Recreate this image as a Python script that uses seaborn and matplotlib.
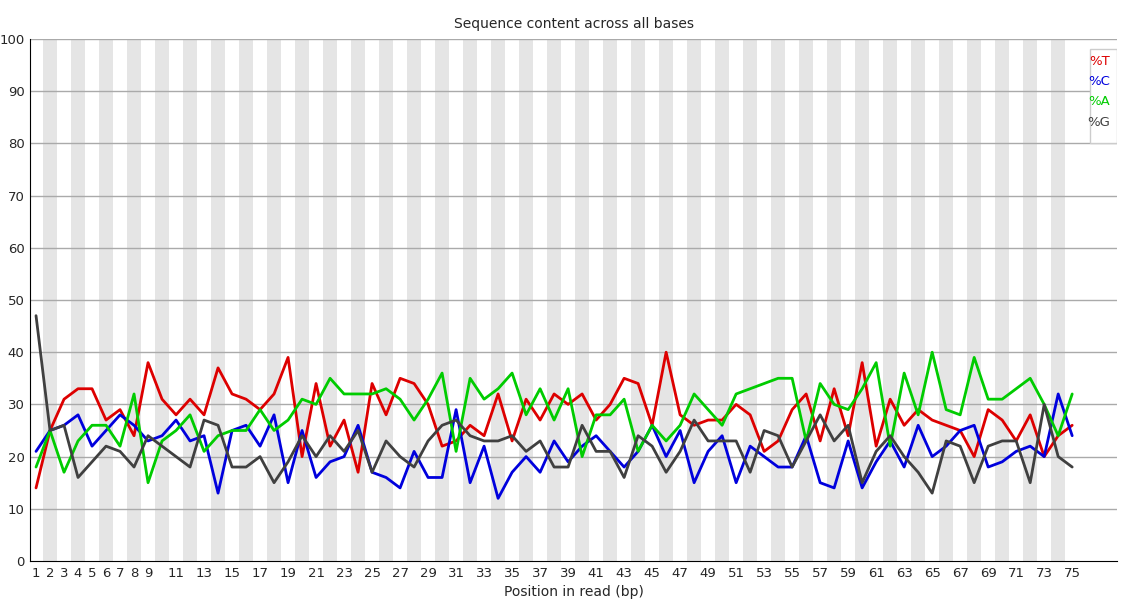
import numpy as np
import pandas as pd
import matplotlib.pyplot as plt
import seaborn as sns

positions = list(range(1, 76))
pct_t = [14, 25, 31, 33, 33, 27, 29, 24, 38, 31, 28, 31, 28, 37, 32, 31, 29, 32, 39, 20,
         34, 22, 27, 17, 34, 28, 35, 34, 30, 22, 23, 26, 24, 32, 23, 31, 27, 32, 30, 32,
         27, 30, 35, 34, 26, 40, 28, 26, 27, 27, 30, 28, 21, 23, 29, 32, 23, 33, 24, 38,
         22, 31, 26, 29, 27, 26, 25, 20, 29, 27, 23, 28, 20, 24, 26]
pct_c = [21, 25, 26, 28, 22, 25, 28, 26, 23, 24, 27, 23, 24, 13, 25, 26, 22, 28, 15, 25,
         16, 19, 20, 26, 17, 16, 14, 21, 16, 16, 29, 15, 22, 12, 17, 20, 17, 23, 19, 22,
         24, 21, 18, 21, 26, 20, 25, 15, 21, 24, 15, 22, 20, 18, 18, 24, 15, 14, 23, 14,
         19, 23, 18, 26, 20, 22, 25, 26, 18, 19, 21, 22, 20, 32, 24]
pct_a = [18, 25, 17, 23, 26, 26, 22, 32, 15, 23, 25, 28, 21, 24, 25, 25, 29, 25, 27, 31,
         30, 35, 32, 32, 32, 33, 31, 27, 31, 36, 21, 35, 31, 33, 36, 28, 33, 27, 33, 20,
         28, 28, 31, 21, 26, 23, 26, 32, 29, 26, 32, 33, 34, 35, 35, 23, 34, 30, 29, 33,
         38, 22, 36, 28, 40, 29, 28, 39, 31, 31, 33, 35, 30, 24, 32]
pct_g = [47, 25, 26, 16, 19, 22, 21, 18, 24, 22, 20, 18, 27, 26, 18, 18, 20, 15, 19, 24,
         20, 24, 21, 25, 17, 23, 20, 18, 23, 26, 27, 24, 23, 23, 24, 21, 23, 18, 18, 26,
         21, 21, 16, 24, 22, 17, 21, 27, 23, 23, 23, 17, 25, 24, 18, 23, 28, 23, 26, 15,
         21, 24, 20, 17, 13, 23, 22, 15, 22, 23, 23, 15, 30, 20, 18]
tick_labels = ["1", "2", "3", "4", "5", "6", "7", "8", "9"] + [str(i) for i in range(11, 76, 2)]

series = [("%T", pct_t, "#dd0000"), ("%C", pct_c, "#0000dd"),
          ("%A", pct_a, "#00cc00"), ("%G", pct_g, "#404040")]
df = pd.concat([pd.DataFrame({"pos": positions, "pct": v, "base": n}) for n, v, _ in series])
palette = {n: c for n, _, c in series}

sns.set_style("white")
plt.rcParams['font.family'] = ['DejaVu Sans']
fig = plt.figure(figsize=(11.25, 6), dpi=100)
ax = fig.add_axes([30 / 1125, 39 / 600, 1087 / 1125, 522 / 600])

for p in positions:
    if p % 2 == 0:
        ax.axvspan(p - 0.5, p + 0.5, color="#e5e5e5", lw=0, zorder=0)
for yv in range(10, 101, 10):
    ax.axhline(yv, color="#aaaaaa", lw=1, zorder=1)

sns.lineplot(data=df, x="pos", y="pct", hue="base", palette=palette, lw=2, ax=ax,
             legend=False, zorder=3)

ax.set_xlim(0.57, 78.2)
ax.set_ylim(0, 100)
ax.set_yticks(range(0, 101, 10))
ax.set_xticks([int(t) for t in tick_labels])
ax.set_xticklabels(tick_labels)
ax.tick_params(labelsize=9.5, length=0, pad=4)
for s in ["top", "right"]:
    ax.spines[s].set_visible(False)
ax.spines["left"].set_color("black")
ax.spines["bottom"].set_color("black")
ax.set_xlabel("Position in read (bp)", fontsize=10)
ax.set_ylabel("")
ax.set_title("Sequence content across all bases", fontsize=10, pad=8)

leg_y = 0.97
for n, _, c in series:
    ax.text(0.994, leg_y, n, color=c, fontsize=9.5, ha="right", va="top", transform=ax.transAxes, zorder=5)
    leg_y -= 0.039
ax.add_patch(plt.Rectangle((0.975, 0.8), 0.025, 0.18, transform=ax.transAxes, facecolor="white",
                           edgecolor="#cccccc", lw=1, zorder=4))

fig.savefig("out.png", dpi=100, facecolor="white")
